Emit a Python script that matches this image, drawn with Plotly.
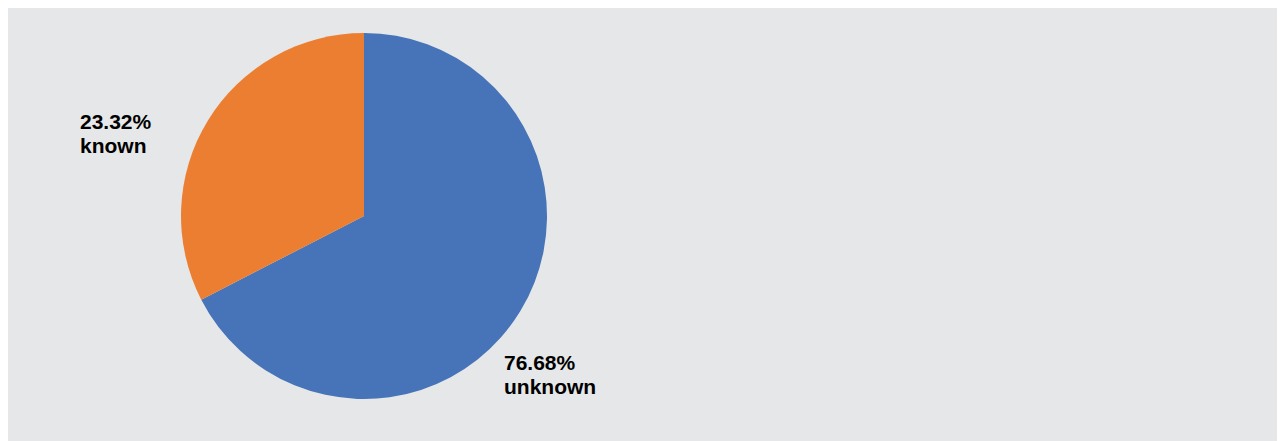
import plotly.graph_objects as go

# Data
categories = ["known", "unknown"]
label_percents = [23.32, 76.68]          # percentages printed on the chart
slice_shares = [32.56, 67.44]            # slice sizes as drawn in the picture
colors = ["#EC7E32", "#4773B8"]

OFF = 8                     # page body margin
W, H = 1283 - OFF, 441 - OFF

def px_x(x):
    return (x - OFF) / W

def px_y(y):
    return (441 - y) / H

# draw clockwise from 12 o'clock, "unknown" first so "known" sits on the left
order = [1, 0]
fig = go.Figure()
fig.add_trace(go.Pie(
    labels=[categories[i] for i in order],
    values=[slice_shares[i] for i in order],
    sort=False,
    direction="clockwise",
    rotation=0,
    marker=dict(colors=[colors[i] for i in order], line=dict(width=0)),
    textinfo="none",
    hoverinfo="label+text",
    hovertext=[f"{label_percents[i]:.2f}%" for i in order],
    showlegend=False,
    domain=dict(x=[px_x(364 - 183), px_x(364 + 183)], y=[px_y(399), px_y(33)]),
))

label_pos = {"known": (80, 122), "unknown": (504, 362)}
font = dict(family="Liberation Sans, Arial, sans-serif", size=21, color="#000000")
for cat, pct in zip(categories, label_percents):
    x, y = label_pos[cat]
    fig.add_annotation(text=f"<b>{pct:.2f}%</b>", x=px_x(x), y=px_y(y), xref="paper", yref="paper",
                       xanchor="left", yanchor="middle", showarrow=False, font=font, borderpad=0, xshift=-1)
    fig.add_annotation(text=f"<b>{cat}</b>", x=px_x(x), y=px_y(y + 24), xref="paper", yref="paper",
                       xanchor="left", yanchor="middle", showarrow=False, font=font, borderpad=0, xshift=-1)

fig.update_layout(
    width=W, height=H,
    margin=dict(l=0, t=0, r=0, b=0),
    paper_bgcolor="#E6E7E8",
    plot_bgcolor="#E6E7E8",
)

fig.write_html("out.html")
